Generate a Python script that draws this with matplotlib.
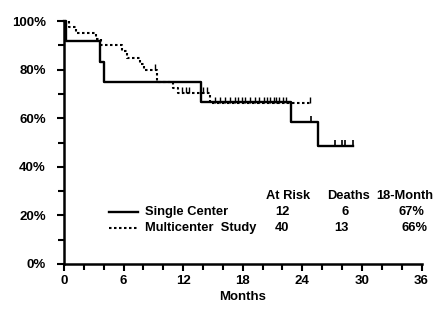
import matplotlib
matplotlib.use('Agg')
import matplotlib.pyplot as plt
from matplotlib.path import Path

plt.rcParams['font.family'] = ['Liberation Sans', 'DejaVu Sans']
plt.rcParams['font.weight'] = 'bold'

# Single Center (solid) - step times (months) and survival (%)
sc_times = [0, 0.25, 3.6, 4.05, 13.8, 22.9, 25.6, 29.1]
sc_surv = [100, 91.7, 83.3, 75.0, 66.7, 58.3, 48.6, 48.6]
sc_cens_t = [24.9, 27.3, 28.0, 28.3, 29.1]
sc_cens_s = [58.3, 48.6, 48.6, 48.6, 48.6]

# Multicenter Study (dotted)
mc_times = [0, 0.5, 1.2, 3.2, 3.7, 5.8, 6.3, 7.7, 8.1, 9.35, 11.0, 11.5, 14.7, 24.8]
mc_surv = [100, 97.5, 95, 92.5, 90, 87.5, 85, 82.5, 80, 75, 72.5, 70.2, 66.4, 66.4]
mc_cens_t = [9.2, 11.85, 12.3, 12.6, 14.0, 14.4,
             15.2, 15.7, 16.2, 16.7, 17.2, 17.55, 17.9, 18.2, 18.7, 19.2, 19.6,
             20.1, 20.4, 20.7, 21.1, 21.4, 21.7, 22.1, 22.4, 24.8]
mc_cens_s = [80, 70.2, 70.2, 70.2, 70.2, 70.2] + [66.4] * 20

# table
headers = ['At Risk', 'Deaths', '18-Month']
groups = ['Single Center', 'Multicenter  Study']
at_risk = [12, 40]
deaths = [6, 13]
m18 = ['67%', '66%']

fig = plt.figure(figsize=(4.47, 3.15), dpi=100)
ax = fig.add_axes([0.143, 0.162, 0.8, 0.771])

dot = (0, (1.2, 1.2))
tick_mark = Path([[0, 0], [0, 1]])

ax.step(sc_times, sc_surv, where='post', color='black', lw=1.7, clip_on=False, zorder=3)
ax.plot(sc_cens_t, sc_cens_s, ls='none', marker=tick_mark, ms=9, mfc='none',
        mec='black', mew=1.2, clip_on=False, zorder=3)
ax.step(mc_times, mc_surv, where='post', color='black', lw=1.5, ls=dot, clip_on=False, zorder=2)
ax.plot(mc_cens_t, mc_cens_s, ls='none', marker=tick_mark, ms=9, mfc='none',
        mec='black', mew=1.0, clip_on=False, zorder=2)

ax.set_xlim(0, 36)
ax.set_ylim(0, 100)
ax.set_xticks(range(0, 37, 6))
ax.set_xticks(range(0, 37, 2), minor=True)
ax.set_yticks(range(0, 101, 20))
ax.set_yticks(range(0, 101, 10), minor=True)
ax.set_yticklabels([f'{v}%' for v in range(0, 101, 20)])
for s in ['top', 'right']:
    ax.spines[s].set_visible(False)
for s in ['left', 'bottom']:
    ax.spines[s].set_linewidth(1.8)
ax.tick_params(which='both', direction='out', width=1.5, labelsize=9.5)
ax.tick_params(which='major', length=5)
ax.tick_params(which='minor', length=4)
ax.tick_params(axis='y', pad=8)
ax.tick_params(axis='x', pad=3)
ax.set_xlabel('Months', fontsize=9.5, fontweight='bold', labelpad=3)

# legend / table as text
fs = 9.3
ax.text(0.626, 0.281, headers[0], transform=ax.transAxes, fontsize=fs, ha='center', va='center')
ax.text(0.797, 0.281, headers[1], transform=ax.transAxes, fontsize=fs, ha='center', va='center')
ax.text(0.954, 0.281, headers[2], transform=ax.transAxes, fontsize=fs, ha='center', va='center')
rows_y = [0.215, 0.147]
styles = ['-', dot]
num_x = [0.611, 0.611]
death_x = [0.786, 0.776]
pct_x = [1.007, 1.017]
for i in range(2):
    y = rows_y[i]
    ax.plot([0.126, 0.207], [y, y], transform=ax.transAxes, color='black',
            lw=1.7 if i == 0 else 1.5, ls=styles[i])
    ax.text(0.227, y, groups[i], transform=ax.transAxes, fontsize=fs, ha='left', va='center')
    ax.text(num_x[i], y, str(at_risk[i]), transform=ax.transAxes, fontsize=fs, ha='center', va='center')
    ax.text(death_x[i], y, str(deaths[i]), transform=ax.transAxes, fontsize=fs, ha='center', va='center')
    ax.text(pct_x[i], y, m18[i], transform=ax.transAxes, fontsize=fs, ha='right', va='center')

plt.savefig('out.png', dpi=100, facecolor='white')
plt.close()
